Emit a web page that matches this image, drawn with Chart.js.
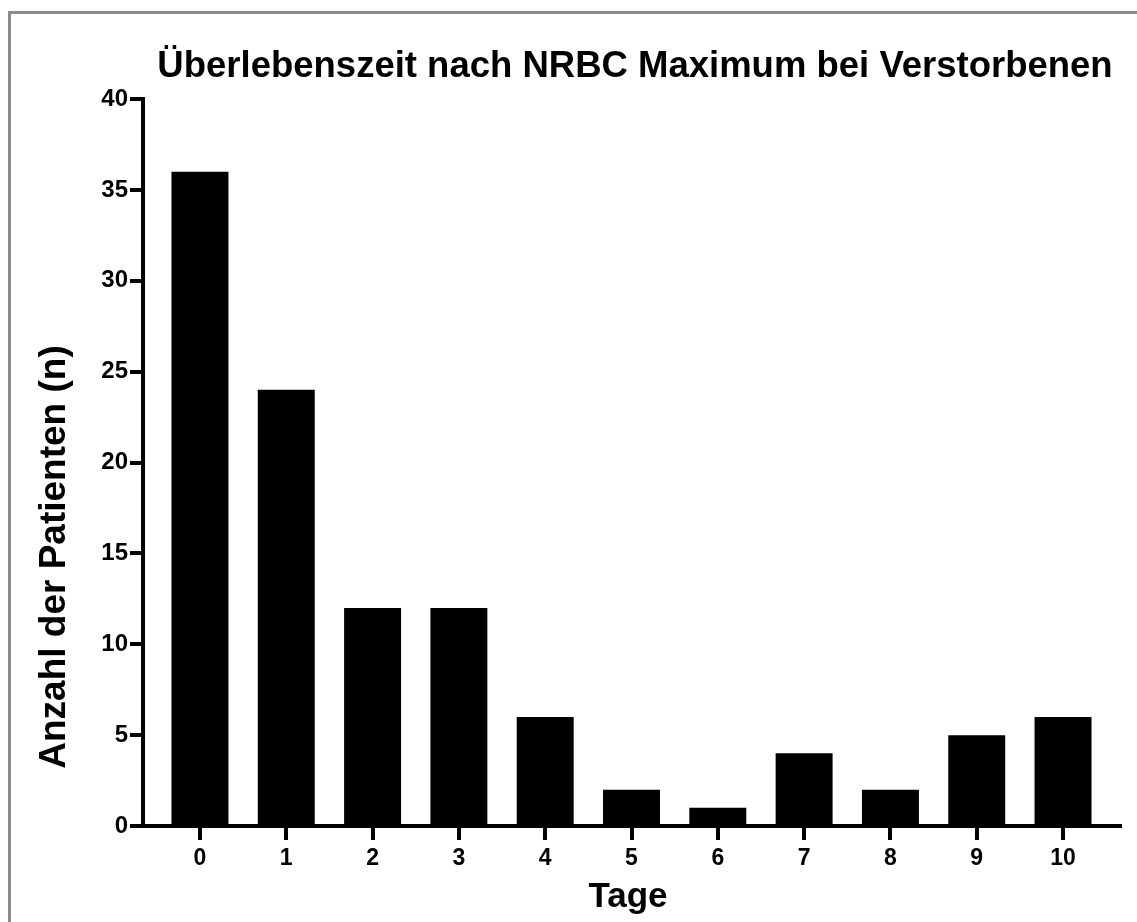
<!DOCTYPE html>
<html>
<head>
<meta charset="utf-8">
<script src="https://cdn.jsdelivr.net/npm/chart.js@4/dist/chart.umd.min.js"></script>
<style>
  html, body { margin: 0; padding: 0; background: #fff; }
  #wrap { position: relative; width: 1137px; height: 922px; overflow: hidden; }
  #frame { position: absolute; left: 8px; top: 11px; width: 1200px; height: 1000px;
           border-left: 3px solid #8c8c8c; border-top: 3px solid #8c8c8c; }
  canvas { position: absolute; left: 0; top: 0; }
</style>
</head>
<body>
<div id="wrap">
  <div id="frame"></div>
  <canvas id="c" width="1137" height="922"></canvas>
</div>
<script>
// Survival time (days) after NRBC maximum, number of deceased patients per day
const days = [0, 1, 2, 3, 4, 5, 6, 7, 8, 9, 10];
const patients = [36, 24, 12, 12, 6, 2, 1, 4, 2, 5, 6];
const yTicks = [0, 5, 10, 15, 20, 25, 30, 35, 40];

const titleText = 'Überlebenszeit nach NRBC Maximum bei Verstorbenen';
const xTitle = 'Tage';
const yTitle = 'Anzahl der Patienten (n)';

const FONT = '"Liberation Sans", Arial, Helvetica, sans-serif';

// Title and axis titles placed Prism-style
const textPlugin = {
  id: 'prismText',
  afterDraw(chart) {
    const ctx = chart.ctx;
    ctx.save();
    ctx.fillStyle = '#000';
    ctx.textAlign = 'center';
    ctx.textBaseline = 'alphabetic';

    ctx.font = 'bold 36.5px ' + FONT;
    ctx.fillText(titleText, 635, 77);

    ctx.font = 'bold 35px ' + FONT;
    ctx.fillText(xTitle, 628, 907);

    ctx.translate(65, 557);
    ctx.rotate(-Math.PI / 2);
    ctx.font = 'bold 37px ' + FONT;
    ctx.fillText(yTitle, 0, 0);
    ctx.restore();
  }
};

const axisGrid = (len) => ({
  offset: false,
  drawOnChartArea: false,
  drawTicks: true,
  tickLength: len,
  tickWidth: 4,
  tickColor: '#000',
  lineWidth: 4,
  color: '#000'
});

new Chart(document.getElementById('c'), {
  type: 'bar',
  data: {
    datasets: [{
      data: days.map((d, i) => ({ x: d, y: patients[i] })),
      backgroundColor: '#000',
      borderWidth: 0,
      barPercentage: 0.66,
      categoryPercentage: 1
    }]
  },
  options: {
    responsive: false,
    animation: false,
    devicePixelRatio: 1,
    layout: { padding: { top: 99, left: 80, right: 17, bottom: 46 } },
    plugins: {
      legend: { display: false },
      title: { display: false },
      tooltip: { enabled: false }
    },
    scales: {
      x: {
        type: 'linear',
        offset: false,
        min: -0.66,
        max: 10.66,
        afterBuildTicks: (s) => { s.ticks = days.map(v => ({ value: v })); },
        afterFit: (s) => { s.height = 50; },
        ticks: {
          autoSkip: false,
          maxRotation: 0,
          padding: 5,
          color: '#000',
          font: { family: FONT, size: 23, weight: 'bold' }
        },
        grid: axisGrid(14),
        border: { display: true, width: 4, color: '#000' }
      },
      y: {
        min: 0,
        max: 40,
        afterBuildTicks: (s) => { s.ticks = yTicks.map(v => ({ value: v })); },
        afterFit: (s) => { s.width = 63; },
        ticks: {
          padding: 2,
          color: '#000',
          font: { family: FONT, size: 24, weight: 'bold' }
        },
        grid: axisGrid(13),
        border: { display: true, width: 4, color: '#000' }
      }
    }
  },
  plugins: [textPlugin]
});
</script>
</body>
</html>
